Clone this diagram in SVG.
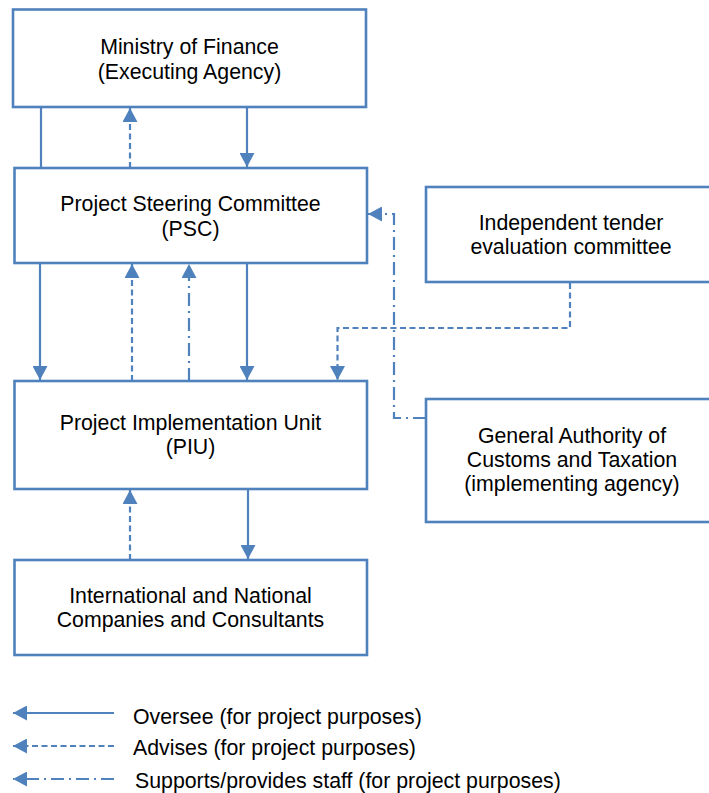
<svg xmlns="http://www.w3.org/2000/svg" width="709" height="793" viewBox="0 0 709 793">
<defs>
<style>
.box{fill:#fff;stroke:#4F81BD;stroke-width:2.6}
.t{font-family:"Liberation Sans",Arial,sans-serif;font-size:21.3px;fill:#000;text-anchor:middle}
.lt{font-family:"Liberation Sans",Arial,sans-serif;font-size:21.3px;fill:#000}
.c{fill:none;stroke:#4F81BD;stroke-width:2.2}
.dash{stroke-dasharray:6 3.5}
.dd{stroke-dasharray:13 5 2 5}
</style>
<marker id="ah" markerUnits="userSpaceOnUse" markerWidth="14" markerHeight="15" refX="14" refY="7.5" orient="auto">
<path d="M0,0 L14,7.5 L0,15 Z" fill="#4F81BD"/>
</marker>
</defs>
<g id="mof">
<rect class="box" x="13" y="9.5" width="353" height="97.5"/>
<text class="t" x="189.5" y="54">Ministry of Finance</text>
<text class="t" x="189.5" y="78.5">(Executing Agency)</text>
</g>
<g id="psc">
<rect class="box" x="14.5" y="168" width="352.5" height="95"/>
<text class="t" x="190.5" y="211">Project Steering Committee</text>
<text class="t" x="190.5" y="236">(PSC)</text>
</g>
<g id="itec">
<rect class="box" x="426" y="187" width="290" height="95"/>
<text class="t" x="571" y="230">Independent tender</text>
<text class="t" x="571" y="253.5">evaluation committee</text>
</g>
<g id="piu">
<rect class="box" x="14.5" y="381" width="352.5" height="108"/>
<text class="t" x="190.5" y="430">Project Implementation Unit</text>
<text class="t" x="190.5" y="454">(PIU)</text>
</g>
<g id="gact">
<rect class="box" x="426" y="399" width="290" height="123"/>
<text class="t" x="572" y="443">General Authority of</text>
<text class="t" x="572" y="467">Customs and Taxation</text>
<text class="t" x="572" y="490.5">(implementing agency)</text>
</g>
<g id="cons">
<rect class="box" x="14.5" y="560" width="352.5" height="95"/>
<text class="t" x="190.5" y="603">International and National</text>
<text class="t" x="190.5" y="627">Companies and Consultants</text>
</g>
<g id="connectors">
<line class="c" x1="41" y1="107" x2="41" y2="168"/>
<line class="c dash" x1="130" y1="168" x2="130" y2="108" marker-end="url(#ah)"/>
<line class="c" x1="247" y1="107" x2="247" y2="167" marker-end="url(#ah)"/>
<line class="c" x1="40" y1="263" x2="40" y2="380" marker-end="url(#ah)"/>
<line class="c dash" x1="132" y1="381" x2="132" y2="264" marker-end="url(#ah)"/>
<line class="c dd" x1="189" y1="381" x2="189" y2="264" marker-end="url(#ah)"/>
<line class="c" x1="247" y1="263" x2="247" y2="380" marker-end="url(#ah)"/>
<polyline class="c dash" points="570,283 570,328 337.5,328 337.5,380" marker-end="url(#ah)"/>
<polyline class="c dd" points="426,418 394,418 394,214 368,214" marker-end="url(#ah)"/>
<line class="c dash" x1="130" y1="560" x2="130" y2="490" marker-end="url(#ah)"/>
<line class="c" x1="248" y1="489" x2="248" y2="559" marker-end="url(#ah)"/>
</g>
<g id="legend">
<line class="c" x1="114" y1="713" x2="13" y2="713" marker-end="url(#ah)"/>
<line class="c dash" x1="114" y1="746" x2="13" y2="746" marker-end="url(#ah)"/>
<line class="c dd" x1="114" y1="779" x2="13" y2="779" marker-end="url(#ah)"/>
<text class="lt" x="133" y="724">Oversee (for project purposes)</text>
<text class="lt" x="133" y="755">Advises (for project purposes)</text>
<text class="lt" x="135" y="788">Supports/provides staff (for project purposes)</text>
</g>
</svg>
